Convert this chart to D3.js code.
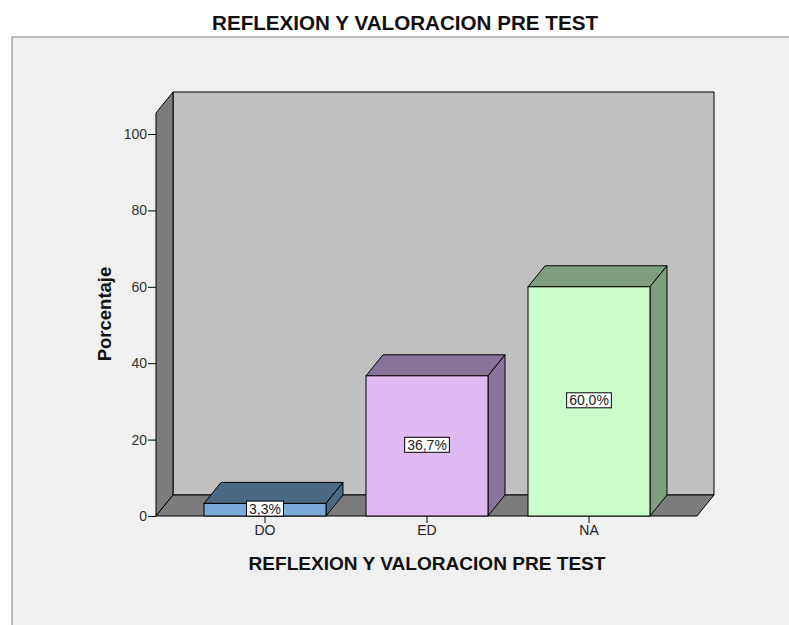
<!DOCTYPE html>
<html>
<head>
<meta charset="utf-8">
<script src="https://cdn.jsdelivr.net/npm/d3@7"></script>
<style>
  body { margin: 0; background: #fff; }
  text { font-family: "Liberation Sans", Arial, sans-serif; }
</style>
</head>
<body>
<div id="chart"></div>
<script>
// data
const categories = ['DO', 'ED', 'NA']
const percents = [3.3, 36.7, 60.0]
const valueLabels = ['3,3%', '36,7%', '60,0%']
const yTicks = [0, 20, 40, 60, 80, 100]
const chartTitle = 'REFLEXION Y VALORACION PRE TEST'
const xTitle = 'REFLEXION Y VALORACION PRE TEST'
const yTitle = 'Porcentaje'

const width = 789,
  height = 625
const frontFill = ['#7aa8d8', '#dfb9f2', '#ccfecc']
const darkFill = ['#4b6884', '#88739a', '#7f9e7f']
const dx = 17, dy = 21   // 3d depth
const wallMax = 105.5

const svg = d3.select('#chart')
  .append('svg')
  .attr('width', width)
  .attr('height', height)

// panel
svg.append('rect')
  .attr('x', 12).attr('y', 37)
  .attr('width', width).attr('height', height)
  .attr('fill', '#f0f0f0')
  .attr('stroke', '#7a7a7a')

svg.append('text')
  .attr('x', 405).attr('y', 30)
  .attr('text-anchor', 'middle')
  .attr('textLength', 386)
  .attr('lengthAdjust', 'spacingAndGlyphs')
  .style('font-size', '21px')
  .style('font-weight', 'bold')
  .attr('fill', '#111')
  .text(chartTitle)

const y = d3.scaleLinear()
  .domain([0, 100])
  .range([516, 134])

const x = d3.scaleBand()
  .domain(categories)
  .range([184, 670])
  .paddingInner(0.247)
  .paddingOuter(0.1235)

const x0 = 156, x1 = 697
const y0 = y(0), yTop = y(wallMax)

const pts = (arr) => arr.map(p => p.join(',')).join(' ')

// walls
svg.append('polygon')
  .attr('points', pts([[x0 + dx, yTop - dy], [x1 + dx, yTop - dy], [x1 + dx, y0 - dy], [x0 + dx, y0 - dy]]))
  .attr('fill', '#c0c0c0').attr('stroke', '#000')
svg.append('polygon')
  .attr('points', pts([[x0, yTop], [x0 + dx, yTop - dy], [x0 + dx, y0 - dy], [x0, y0]]))
  .attr('fill', '#7c7c7c').attr('stroke', '#000')
svg.append('polygon')
  .attr('points', pts([[x0, y0], [x0 + dx, y0 - dy], [x1 + dx, y0 - dy], [x1, y0]]))
  .attr('fill', '#7c7c7c').attr('stroke', '#000')

// bars
const bars = svg.append('g').selectAll('g')
  .data(percents)
  .enter()
  .append('g')

bars.append('polygon')
  .attr('points', (d, i) => {
    const l = x(categories[i]), r = l + x.bandwidth(), t = y(d)
    return pts([[l, t], [l + dx, t - dy], [r + dx, t - dy], [r, t]])
  })
  .attr('fill', (d, i) => darkFill[i]).attr('stroke', '#000')

bars.append('polygon')
  .attr('points', (d, i) => {
    const r = x(categories[i]) + x.bandwidth(), t = y(d)
    return pts([[r, t], [r + dx, t - dy], [r + dx, y0 - dy], [r, y0]])
  })
  .attr('fill', (d, i) => darkFill[i]).attr('stroke', '#000')

bars.append('rect')
  .attr('x', (d, i) => x(categories[i]))
  .attr('y', d => y(d))
  .attr('width', x.bandwidth())
  .attr('height', d => y0 - y(d))
  .attr('fill', (d, i) => frontFill[i]).attr('stroke', '#000')

// axes
const yAxis = svg.append('g')
  .attr('transform', `translate(${x0}, 0)`)
  .call(d3.axisLeft(y).tickValues(yTicks).tickSize(8).tickPadding(1))
yAxis.select('.domain').remove()
yAxis.selectAll('text').style('font-size', '14px').attr('fill', '#333')

const xAxis = svg.append('g')
  .attr('transform', `translate(0, ${y0})`)
  .call(d3.axisBottom(x).tickSize(7).tickPadding(2))
xAxis.select('.domain').remove()
xAxis.selectAll('text').style('font-size', '14px').attr('fill', '#222')

// value labels
const labels = svg.append('g').selectAll('g')
  .data(percents)
  .enter()
  .append('g')
  .attr('transform', (d, i) => `translate(${x(categories[i]) + x.bandwidth() / 2}, ${(y(d) + y0) / 2 - 1})`)

labels.append('text')
  .attr('text-anchor', 'middle')
  .attr('dy', '0.35em')
  .style('font-size', '14px')
  .attr('fill', '#222')
  .text((d, i) => valueLabels[i])
  .each(function () {
    const b = this.getBBox()
    d3.select(this.parentNode).insert('rect', 'text')
      .attr('x', b.x - 2.5).attr('y', b.y + 0.5)
      .attr('width', b.width + 5).attr('height', b.height - 1)
      .attr('fill', '#fff').attr('stroke', '#000')
  })

svg.append('text')
  .attr('x', 427).attr('y', 570)
  .attr('text-anchor', 'middle')
  .attr('textLength', 357)
  .attr('lengthAdjust', 'spacingAndGlyphs')
  .style('font-size', '19px')
  .style('font-weight', 'bold')
  .attr('fill', '#111')
  .text(xTitle)

svg.append('text')
  .attr('transform', 'translate(111, 314) rotate(-90)')
  .attr('text-anchor', 'middle')
  .style('font-size', '18.5px')
  .style('font-weight', 'bold')
  .attr('fill', '#111')
  .text(yTitle)
</script>
</body>
</html>
